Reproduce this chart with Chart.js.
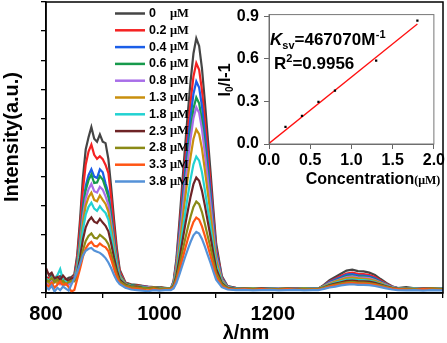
<!DOCTYPE html>
<html>
<head>
<meta charset="utf-8">
<script src="https://cdn.jsdelivr.net/npm/chart.js@4"></script>
<style>
  body { margin: 0; background: #fff; }
  #wrap { position: relative; width: 447px; height: 343px; }
  #main { position: absolute; left: 0; top: 0; }
  #inset { position: absolute; left: 217px; top: 0; }
</style>
</head>
<body>
<div id="wrap">
  <canvas id="main" width="447" height="343"></canvas>
  <canvas id="inset" width="230" height="192"></canvas>
</div>
<script>
// wavelength grid (nm), shared by all spectra
const wavelengths = [
  800,805,810,815,820,825,830,835,840,845,
  850,855,860,865,870,875,880,885,890,895,
  900,905,910,915,920,925,930,940,950,960,
  970,980,990,1000,1010,1020,1025,1030,1035,1040,
  1045,1050,1055,1060,1065,1070,1075,1080,1085,1090,
  1095,1100,1110,1120,1135,1150,1165,1180,1195,1210,
  1225,1240,1255,1270,1280,1290,1300,1310,1320,1330,
  1340,1350,1360,1370,1380,1390,1400,1410,1420,1435,
  1450,1465,1480,1500
];

const concLabels = ['0', '0.2', '0.4', '0.6', '0.8', '1.3', '1.8', '2.3', '2.8', '3.3', '3.8'];
const colors = ['#454545', '#f52222', '#1b5ee8', '#179a4c', '#a86ee8', '#c98f0e',
                '#22d2d2', '#6e2426', '#8a8a16', '#ff5514', '#5592d8'];

const int0 = [
  0.55,0.5,0.62,0.45,0.52,0.58,0.42,0.46,0.52,0.55,
  0.64,1.3,2.51,3.94,4.93,5.35,5.7,5.3,5.2,5.45,
  5.2,5.15,4.6,3.61,2.51,1.52,0.8,0.36,0.3,0.28,
  0.25,0.22,0.2,0.2,0.18,0.15,0.41,1.18,2.39,3.68,
  4.97,6.17,7.29,8.23,8.75,8.49,7.72,6.6,5.4,4.19,
  2.9,1.7,0.58,0.24,0.18,0.16,0.17,0.15,0.16,0.14,
  0.15,0.16,0.15,0.17,0.15,0.28,0.44,0.55,0.66,0.77,
  0.8,0.75,0.74,0.7,0.62,0.48,0.35,0.23,0.17,0.2,
  0.16,0.15,0.17,0.15
];
const int02 = [
  0.45,0.52,0.4,0.5,0.6,0.44,0.38,0.48,0.4,0.5,
  0.59,1.18,2.26,3.53,4.41,4.86,5.1,4.75,4.61,4.7,
  4.6,4.4,4.12,3.24,2.26,1.38,0.74,0.35,0.28,0.26,
  0.24,0.2,0.18,0.2,0.16,0.15,0.38,1.08,2.17,3.33,
  4.49,5.58,6.58,7.44,7.9,7.67,6.97,5.96,4.88,3.79,
  2.63,1.55,0.54,0.23,0.17,0.15,0.16,0.14,0.15,0.16,
  0.14,0.15,0.16,0.15,0.15,0.26,0.4,0.49,0.58,0.67,
  0.7,0.66,0.65,0.62,0.55,0.43,0.32,0.22,0.17,0.16,
  0.17,0.15,0.14,0.16
];
const int04 = [
  0.4,0.35,0.48,0.42,0.38,0.5,0.36,0.3,0.42,0.48,
  0.52,1.01,1.9,2.95,3.68,4.05,4.25,4.0,3.95,4.25,
  4.15,3.76,3.44,2.71,1.9,1.17,0.65,0.33,0.26,0.24,
  0.22,0.2,0.19,0.17,0.16,0.15,0.36,1.0,2.0,3.07,
  4.14,5.13,6.06,6.84,7.27,7.06,6.42,5.49,4.49,3.5,
  2.43,1.43,0.51,0.22,0.16,0.15,0.14,0.16,0.15,0.13,
  0.15,0.16,0.14,0.15,0.15,0.25,0.38,0.46,0.54,0.63,
  0.65,0.61,0.6,0.57,0.51,0.4,0.3,0.21,0.17,0.15,
  0.16,0.14,0.15,0.16
];
const int06 = [
  0.35,0.42,0.3,0.45,0.4,0.33,0.46,0.38,0.32,0.44,
  0.51,0.97,1.83,2.83,3.53,3.88,4.07,3.78,3.8,4.02,
  3.9,3.61,3.3,2.6,1.83,1.13,0.63,0.32,0.27,0.25,
  0.21,0.2,0.18,0.19,0.15,0.15,0.35,0.94,1.86,2.84,
  3.83,4.75,5.6,6.33,6.72,6.52,5.93,5.08,4.16,3.24,
  2.25,1.33,0.48,0.21,0.15,0.17,0.15,0.14,0.16,0.15,
  0.13,0.15,0.16,0.14,0.15,0.24,0.35,0.43,0.5,0.58,
  0.6,0.56,0.56,0.53,0.47,0.38,0.29,0.2,0.16,0.16,
  0.14,0.15,0.16,0.14
];
const int08 = [
  0.38,0.3,0.42,0.36,0.45,0.3,0.34,0.4,0.28,0.4,
  0.48,0.91,1.69,2.61,3.25,3.57,3.75,3.5,3.45,3.65,
  3.55,3.32,3.04,2.4,1.69,1.05,0.59,0.3,0.25,0.23,
  0.2,0.21,0.17,0.18,0.15,0.15,0.34,0.9,1.77,2.7,
  3.64,4.51,5.32,6.01,6.38,6.19,5.63,4.82,3.95,3.08,
  2.14,1.27,0.46,0.2,0.14,0.16,0.15,0.13,0.15,0.16,
  0.14,0.15,0.13,0.15,0.15,0.23,0.34,0.41,0.48,0.55,
  0.57,0.54,0.53,0.51,0.45,0.36,0.28,0.2,0.16,0.14,
  0.15,0.16,0.14,0.15
];
const int13 = [
  0.42,0.36,0.3,0.4,0.34,0.46,0.3,0.36,0.42,0.38,
  0.46,0.85,1.57,2.41,3.0,3.29,3.45,3.2,3.15,3.35,
  3.2,3.06,2.8,2.22,1.57,0.98,0.56,0.3,0.24,0.22,
  0.2,0.18,0.19,0.16,0.14,0.15,0.31,0.81,1.57,2.39,
  3.21,3.98,4.69,5.29,5.62,5.46,4.96,4.25,3.49,2.72,
  1.9,1.13,0.42,0.19,0.15,0.14,0.16,0.15,0.13,0.14,
  0.16,0.14,0.15,0.14,0.15,0.23,0.32,0.39,0.45,0.51,
  0.53,0.5,0.49,0.47,0.42,0.34,0.26,0.19,0.16,0.15,
  0.14,0.15,0.16,0.14
];
const int18 = [
  0.5,0.42,0.55,0.48,0.6,0.82,0.45,0.4,0.36,0.45,
  0.43,0.78,1.42,2.17,2.69,2.96,3.1,2.9,2.82,2.98,
  2.85,2.75,2.52,2.0,1.42,0.9,0.52,0.28,0.24,0.2,
  0.21,0.18,0.17,0.16,0.15,0.15,0.29,0.69,1.33,2.01,
  2.69,3.33,3.92,4.42,4.69,4.55,4.15,3.55,2.92,2.28,
  1.6,0.97,0.38,0.19,0.16,0.14,0.15,0.13,0.15,0.14,
  0.15,0.13,0.14,0.15,0.15,0.21,0.29,0.35,0.4,0.45,
  0.47,0.44,0.44,0.42,0.38,0.31,0.25,0.19,0.16,0.14,
  0.15,0.14,0.13,0.15
];
const int23 = [
  0.85,0.62,0.7,0.5,0.55,0.45,0.6,0.48,0.42,0.5,
  0.5,0.68,1.21,1.83,2.26,2.48,2.6,2.45,2.4,2.55,
  2.42,2.31,2.12,1.69,1.21,0.78,0.46,0.28,0.22,0.22,
  0.19,0.17,0.18,0.15,0.14,0.15,0.26,0.61,1.14,1.72,
  2.29,2.82,3.32,3.74,3.97,3.86,3.51,3.02,2.48,1.95,
  1.37,0.84,0.34,0.18,0.14,0.15,0.13,0.15,0.14,0.13,
  0.15,0.14,0.13,0.14,0.14,0.2,0.27,0.32,0.37,0.42,
  0.43,0.41,0.4,0.39,0.35,0.29,0.23,0.18,0.15,0.14,
  0.13,0.15,0.14,0.13
];
const int28 = [
  0.45,0.4,0.52,0.38,0.46,0.35,0.42,0.3,0.38,0.42,
  0.4,0.57,0.98,1.46,1.79,1.96,2.05,1.9,1.87,2.0,
  1.92,1.83,1.68,1.35,0.98,0.64,0.4,0.26,0.21,0.19,
  0.18,0.16,0.17,0.14,0.15,0.15,0.24,0.51,0.93,1.38,
  1.82,2.24,2.63,2.96,3.14,3.05,2.78,2.39,1.97,1.56,
  1.11,0.69,0.3,0.17,0.13,0.15,0.14,0.12,0.14,0.13,
  0.14,0.12,0.14,0.13,0.14,0.19,0.25,0.29,0.33,0.37,
  0.38,0.36,0.36,0.34,0.31,0.26,0.21,0.17,0.14,0.13,
  0.14,0.12,0.14,0.13
];
const int33 = [
  0.3,0.22,0.35,0.18,0.28,0.4,0.25,0.32,0.2,0.05,
  0.1,0.47,0.83,1.24,1.53,1.68,1.76,1.62,1.6,1.7,
  1.62,1.57,1.44,1.15,0.83,0.54,0.33,0.2,0.16,0.15,
  0.12,0.08,0.13,0.1,0.12,0.12,0.19,0.42,0.76,1.13,
  1.5,1.85,2.17,2.44,2.59,2.52,2.29,1.97,1.63,1.28,
  0.91,0.56,0.24,0.14,0.12,0.13,0.11,0.13,0.12,0.11,
  0.13,0.12,0.11,0.12,0.12,0.16,0.22,0.26,0.29,0.33,
  0.34,0.32,0.32,0.31,0.28,0.23,0.19,0.15,0.13,0.12,
  0.11,0.13,0.12,0.11
];
const int38 = [
  0.2,0.12,0.25,0.05,0.18,0.1,0.22,0.15,0.08,0.3,
  0.5,0.72,1.0,1.28,1.45,1.52,1.55,1.46,1.42,1.38,
  1.3,1.2,1.05,0.85,0.62,0.42,0.3,0.18,0.12,0.1,
  0.08,0.06,0.1,0.08,0.1,0.1,0.16,0.34,0.62,0.92,
  1.22,1.5,1.76,1.98,2.1,2.04,1.86,1.6,1.32,1.04,
  0.74,0.46,0.2,0.12,0.1,0.11,0.09,0.1,0.11,0.09,
  0.1,0.11,0.09,0.1,0.1,0.14,0.19,0.22,0.26,0.29,
  0.3,0.28,0.28,0.27,0.24,0.2,0.16,0.12,0.1,0.09,
  0.1,0.08,0.1,0.09
];
const spectra = [int0, int02, int04, int06, int08, int13, int18, int23, int28, int33, int38];

const xTickValues = [800, 900, 1000, 1100, 1200, 1300, 1400, 1500];
const xTickLabels = [800, 1000, 1200, 1400];
const yTickValues = [0, 1, 2, 3, 4, 5, 6, 7, 8, 9, 10];

// inset: Stern-Volmer plot
const insetConc = [0, 0.2, 0.4, 0.6, 0.8, 1.3, 1.8];
const insetRatio = [0, 0.121, 0.199, 0.297, 0.376, 0.587, 0.869];
const fitConc = [0, 1.8];
const fitRatio = [0.004, 0.845];
const insetXTicks = [0, 0.5, 1.0, 1.5, 2.0];
const insetYTicks = [0, 0.3, 0.6, 0.9];

const SANS = "Arial, 'Liberation Sans', sans-serif";
const SERIF = "'Times New Roman', 'Liberation Serif', serif";

const framePlugin = {
    id: 'frame',
    afterDraw(chart, args, opts) {
        const { ctx, chartArea: a } = chart;
        ctx.save();
        ctx.strokeStyle = opts.color;
        ctx.lineWidth = opts.width;
        ctx.strokeRect(a.left, a.top, a.right - a.left, a.bottom - a.top);
        ctx.restore();
    }
};

const mainTextPlugin = {
    id: 'mainText',
    afterDraw(chart) {
        const ctx = chart.ctx;
        ctx.save();
        ctx.fillStyle = '#000';
        // axis titles
        ctx.font = `bold 20px ${SANS}`;
        ctx.textAlign = 'center';
        ctx.textBaseline = 'middle';
        ctx.fillText('λ/nm', 246, 333);
        ctx.translate(12, 137);
        ctx.rotate(-Math.PI / 2);
        ctx.fillText('Intensity(a.u.)', 0, 0);
        ctx.restore();

        // legend inside the plot
        ctx.save();
        ctx.textBaseline = 'middle';
        ctx.textAlign = 'left';
        concLabels.forEach((lab, i) => {
            const y = 13.5 + i * 16.8;
            ctx.strokeStyle = colors[i];
            ctx.lineWidth = 2.5;
            ctx.beginPath();
            ctx.moveTo(115, y);
            ctx.lineTo(145, y);
            ctx.stroke();
            ctx.fillStyle = '#000';
            ctx.font = `bold 12.5px ${SANS}`;
            ctx.fillText(lab, 149, y);
            ctx.font = `bold 12.5px ${SERIF}`;
            ctx.fillText('μM', 170, y);
        });
        ctx.restore();
    }
};

const axisGrid = { drawOnChartArea: false, drawTicks: true, tickLength: 5, color: '#000', lineWidth: 1.3 };

new Chart(document.getElementById('main'), {
    type: 'line',
    data: {
        datasets: spectra.map((s, i) => ({
            label: concLabels[i] + ' μM',
            data: wavelengths.map((w, k) => ({ x: w, y: s[k] })),
            borderColor: colors[i],
            borderWidth: 2.2,
            pointRadius: 0,
            tension: 0,
            fill: false,
            order: spectra.length - i
        }))
    },
    options: {
        responsive: false,
        animation: false,
        layout: { padding: { left: 0, right: 3, top: 2, bottom: 0 } },
        plugins: {
            legend: { display: false },
            tooltip: { enabled: false },
            frame: { color: '#000', width: 1.5 }
        },
        scales: {
            x: {
                type: 'linear',
                min: 800,
                max: 1500,
                afterBuildTicks: s => { s.ticks = xTickValues.map(v => ({ value: v })); },
                afterFit: s => { s.height = 50; },
                ticks: {
                    autoSkip: false,
                    maxRotation: 0,
                    padding: 4,
                    color: '#000',
                    font: { family: SANS, size: 20, weight: 'bold' },
                    callback: v => xTickLabels.includes(v) ? String(v) : ''
                },
                grid: axisGrid,
                border: { color: '#000', width: 1.5 }
            },
            y: {
                min: 0,
                max: 10,
                afterBuildTicks: s => { s.ticks = yTickValues.map(v => ({ value: v })); },
                afterFit: s => { s.width = 46; },
                ticks: { display: false },
                grid: axisGrid,
                border: { color: '#000', width: 1.5 }
            }
        }
    },
    plugins: [framePlugin, mainTextPlugin]
});

const insetTextPlugin = {
    id: 'insetText',
    afterDraw(chart) {
        const ctx = chart.ctx;
        ctx.save();
        ctx.fillStyle = '#000';
        ctx.textBaseline = 'alphabetic';
        ctx.textAlign = 'left';

        // K_sv = 467070 M^-1
        let x = 53;
        ctx.font = `italic bold 17px ${SANS}`;
        ctx.fillText('K', x, 45);
        x += ctx.measureText('K').width;
        ctx.font = `bold 11px ${SANS}`;
        ctx.fillText('sv', x, 49);
        x += ctx.measureText('sv').width;
        ctx.font = `bold 17px ${SANS}`;
        ctx.fillText('=467070M', x, 45);
        x += ctx.measureText('=467070M').width;
        ctx.font = `bold 11px ${SANS}`;
        ctx.fillText('-1', x + 0.5, 38);

        // R^2 = 0.9956
        x = 57;
        ctx.font = `bold 17px ${SANS}`;
        ctx.fillText('R', x, 69);
        x += ctx.measureText('R').width;
        ctx.font = `bold 11px ${SANS}`;
        ctx.fillText('2', x, 62);
        x += ctx.measureText('2').width;
        ctx.font = `bold 17px ${SANS}`;
        ctx.fillText('=0.9956', x, 69);

        // x title: Concentration(μM)
        ctx.font = `bold 16px ${SANS}`;
        const w1 = ctx.measureText('Concentration').width;
        ctx.font = `bold 12px ${SERIF}`;
        const w2 = ctx.measureText('(μM)').width;
        let cx = 156 - (w1 + w2) / 2;
        ctx.font = `bold 16px ${SANS}`;
        ctx.fillText('Concentration', cx, 184);
        ctx.font = `bold 12px ${SERIF}`;
        ctx.fillText('(μM)', cx + w1, 184);

        // y title: I0/I-1 (rotated)
        ctx.translate(9, 80);
        ctx.rotate(-Math.PI / 2);
        ctx.textBaseline = 'middle';
        ctx.font = `bold 16px ${SANS}`;
        const a = ctx.measureText('I').width;
        const c = ctx.measureText('/I-1').width;
        ctx.font = `bold 10px ${SANS}`;
        const b = ctx.measureText('0').width;
        let tx = -(a + b + c) / 2;
        ctx.font = `bold 16px ${SANS}`;
        ctx.fillText('I', tx, 0);
        ctx.font = `bold 10px ${SANS}`;
        ctx.fillText('0', tx + a, 4);
        ctx.font = `bold 16px ${SANS}`;
        ctx.fillText('/I-1', tx + a + b, 0);
        ctx.restore();
    }
};

const insetGrid = { drawOnChartArea: false, drawTicks: true, tickLength: 5, color: '#666', lineWidth: 1 };

new Chart(document.getElementById('inset'), {
    type: 'scatter',
    data: {
        datasets: [
            {
                data: insetConc.map((c, i) => ({ x: c, y: insetRatio[i] })),
                pointStyle: 'rect',
                pointRadius: 1.6,
                backgroundColor: '#000',
                borderColor: '#000',
                borderWidth: 0,
                showLine: false,
                order: 0
            },
            {
                data: fitConc.map((c, i) => ({ x: c, y: fitRatio[i] })),
                showLine: true,
                borderColor: '#ff1010',
                borderWidth: 1.3,
                pointRadius: 0,
                order: 1
            }
        ]
    },
    options: {
        responsive: false,
        animation: false,
        layout: { padding: { left: 0, right: 8, top: 14, bottom: 0 } },
        plugins: {
            legend: { display: false },
            tooltip: { enabled: false },
            frame: { color: '#777', width: 1 }
        },
        scales: {
            x: {
                type: 'linear',
                min: 0,
                max: 2,
                afterBuildTicks: s => { s.ticks = insetXTicks.map(v => ({ value: v })); },
                afterFit: s => { s.height = 48; },
                ticks: {
                    autoSkip: false,
                    maxRotation: 0,
                    padding: 2,
                    color: '#000',
                    font: { family: SANS, size: 16, weight: 'bold' },
                    callback: v => v.toFixed(1)
                },
                grid: insetGrid,
                border: { color: '#666', width: 1 }
            },
            y: {
                min: 0,
                max: 0.912,
                afterBuildTicks: s => { s.ticks = insetYTicks.map(v => ({ value: v })); },
                afterFit: s => { s.width = 52; },
                ticks: {
                    padding: 5,
                    color: '#000',
                    font: { family: SANS, size: 16, weight: 'bold' },
                    callback: v => v.toFixed(1)
                },
                grid: insetGrid,
                border: { color: '#666', width: 1 }
            }
        }
    },
    plugins: [framePlugin, insetTextPlugin]
});
</script>
</body>
</html>
